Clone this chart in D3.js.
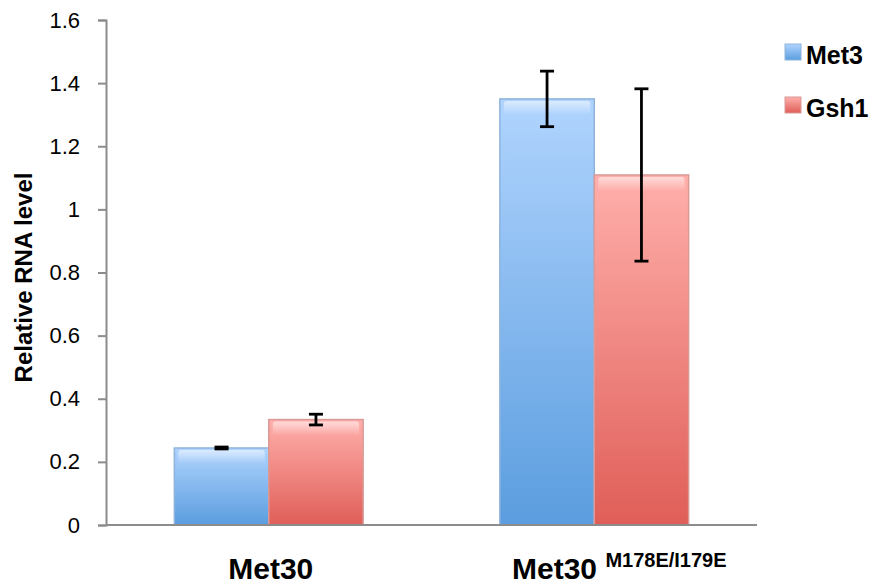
<!DOCTYPE html>
<html><head><meta charset="utf-8">
<script src="https://cdn.jsdelivr.net/npm/d3@7"></script>
<style>body{margin:0;background:#fff;} text{font-family:"Liberation Sans",Arial,sans-serif;}</style>
</head><body>
<svg id="chart" width="876" height="585"></svg>
<script>
const categories = ["Met30", "Met30 M178E/I179E"];
const seriesNames = ["Met3", "Gsh1"];
const met3Values = [0.244, 1.35];
const gsh1Values = [0.334, 1.109];
const met3Err = [0.003, 0.088];
const gsh1Err = [0.017, 0.273];
const yTicks = [0, 0.2, 0.4, 0.6, 0.8, 1, 1.2, 1.4, 1.6];

const svg = d3.select("#chart");
const m = {left:106, right:119, top:20, bottom:60};
const W = 876, H = 585;
const x = d3.scaleBand().domain(categories).range([m.left, W - m.right]).paddingInner(0.42).paddingOuter(0.21);
const y = d3.scaleLinear().domain([0, 1.6]).range([H - m.bottom, m.top]);
const xs = d3.scaleBand().domain(seriesNames).range([0, x.bandwidth()]);

const defs = svg.append("defs");
const grads = {
  Met3: [["0%","#b0d4fe"],["100%","#5b9ddf"]],
  Gsh1: [["0%","#ffafab"],["100%","#e05e58"]]
};
Object.entries(grads).forEach(([k, stops]) => {
  const g = defs.append("linearGradient").attr("id","g"+k).attr("x1",0).attr("x2",0).attr("y1",0).attr("y2",1);
  stops.forEach(s => g.append("stop").attr("offset", s[0]).attr("stop-color", s[1]));
});
const hl = defs.append("linearGradient").attr("id","hl").attr("x1",0).attr("x2",0).attr("y1",0).attr("y2",1);
hl.append("stop").attr("offset","0%").attr("stop-color","#fff").attr("stop-opacity",0.55);
hl.append("stop").attr("offset","100%").attr("stop-color","#fff").attr("stop-opacity",0);
const borders = {Met3:"#8fb4dc", Gsh1:"#d99a97"};

// axes
const yAxis = svg.append("g").attr("transform",`translate(${m.left},0)`)
  .call(d3.axisLeft(y).tickValues(yTicks).tickSize(8).tickFormat(d => String(d)));
yAxis.select(".domain").attr("stroke","#8c8c8c").attr("stroke-width",2);
yAxis.selectAll(".tick line").attr("stroke","#8c8c8c").attr("stroke-width",2);
yAxis.selectAll(".tick text").attr("font-size",22).attr("fill","#000").attr("x",-26);

const data = [];
categories.forEach((c,i) => {
  data.push({c, s:"Met3", v:met3Values[i], e:met3Err[i]});
  data.push({c, s:"Gsh1", v:gsh1Values[i], e:gsh1Err[i]});
});

const bars = svg.append("g");
data.forEach(d => {
  const bx = x(d.c) + xs(d.s), bw = xs.bandwidth(), by = y(d.v), bh = y(0) - y(d.v);
  bars.append("rect").attr("x",bx).attr("y",by).attr("width",bw).attr("height",bh)
    .attr("fill",`url(#g${d.s})`).attr("stroke",borders[d.s]).attr("stroke-width",1.5);
  bars.append("rect").attr("x",bx+4).attr("y",by+2).attr("width",bw-8).attr("height",Math.min(14,bh-4))
    .attr("fill","url(#hl)").attr("rx",3);
});

svg.append("line").attr("x1",m.left).attr("x2",W-m.right).attr("y1",y(0)).attr("y2",y(0))
  .attr("stroke","#8c8c8c").attr("stroke-width",2);

// error bars
const eg = svg.append("g").attr("stroke","#000").attr("stroke-width",2.8);
data.forEach(d => {
  const cx = x(d.c) + xs(d.s) + xs.bandwidth()/2;
  eg.append("line").attr("x1",cx).attr("x2",cx).attr("y1",y(d.v+d.e)).attr("y2",y(d.v-d.e));
  [d.v+d.e, d.v-d.e].forEach(v => eg.append("line").attr("x1",cx-7).attr("x2",cx+7).attr("y1",y(v)).attr("y2",y(v)));
});

// x labels
const xl = svg.append("g").attr("font-weight","bold").attr("fill","#000");
xl.append("text").attr("x", x(categories[0]) + x.bandwidth()/2 + 2).attr("y",579).attr("text-anchor","middle").attr("font-size",30).text("Met30");
const t2 = xl.append("text").attr("x", 512).attr("y",579).attr("text-anchor","start");
t2.append("tspan").attr("font-size",30).text("Met30 ");
t2.append("tspan").attr("font-size",20).attr("dy",-12).text("M178E/I179E");

// y title
svg.append("text").attr("transform",`translate(32,${(y(0)+y(1.6))/2 + 5}) rotate(-90)`).attr("text-anchor","middle")
  .attr("font-size",24).attr("font-weight","bold").text("Relative RNA level");

// legend
const lg = svg.append("g");
seriesNames.forEach((s,i) => {
  const base = 64 + i*53;
  lg.append("rect").attr("x",785).attr("y",base-20).attr("width",16).attr("height",16).attr("fill",`url(#g${s})`).attr("stroke",borders[s]);
  lg.append("text").attr("x",806).attr("y",base).attr("font-size",25).attr("font-weight","bold").text(s);
});
</script>
</body></html>
